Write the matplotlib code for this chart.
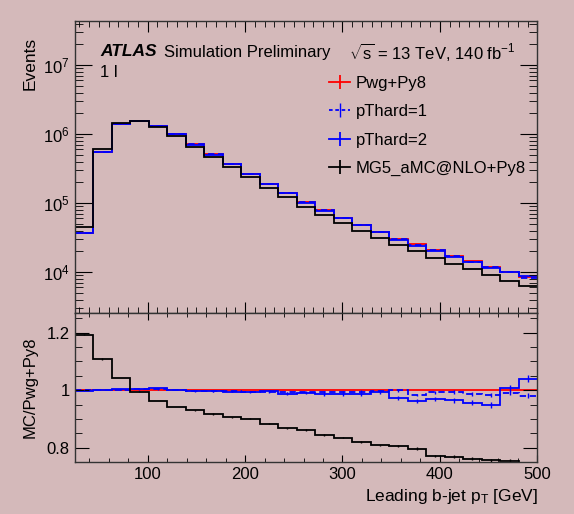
import numpy as np
import matplotlib
matplotlib.use("Agg")
import matplotlib.pyplot as plt
from matplotlib.lines import Line2D
from matplotlib.ticker import MultipleLocator, FixedLocator, LogLocator, NullFormatter

# binning: 25 bins of 19 GeV from 25 to 500
edges = np.arange(25, 501, 19)

# Pwg+Py8 (reference) events per bin
pwg = [37.2e3, 554e3, 1.396e6, 1.56e6, 1.306e6, 0.99e6, 709e3, 508e3, 367e3,
       263e3, 190e3, 140e3, 103e3, 79e3, 61e3, 48.5e3, 38e3, 30.4e3, 25.2e3,
       20.8e3, 17.1e3, 14.4e3, 11.9e3, 10.0e3, 8.5e3]

# ratios to Pwg+Py8
r_hard1 = [1.000, 1.000, 1.002, 1.004, 1.003, 1.001, 0.998, 0.997, 0.996,
           0.995, 0.994, 0.992, 0.994, 0.993, 0.993, 0.995, 0.996, 0.999,
           0.983, 0.993, 0.994, 0.987, 0.984, 0.991, 0.981]
r_hard2 = [0.998, 1.000, 1.003, 1.003, 1.006, 1.002, 0.997, 0.996, 0.995,
           0.992, 0.996, 0.988, 0.990, 0.986, 0.986, 0.985, 0.994, 0.972,
           0.963, 0.969, 0.965, 0.957, 0.949, 1.006, 1.040]
r_mg5 = [1.193, 1.108, 1.042, 0.995, 0.963, 0.941, 0.930, 0.917, 0.905,
         0.901, 0.884, 0.868, 0.862, 0.844, 0.835, 0.820, 0.808, 0.805,
         0.797, 0.771, 0.769, 0.762, 0.757, 0.754, 0.740]

# approximate statistical uncertainties on the ratios
e_hard1 = [0.001, 0.001, 0.001, 0.001, 0.001, 0.002, 0.002, 0.002, 0.002,
           0.002, 0.003, 0.003, 0.003, 0.003, 0.004, 0.004, 0.004, 0.005,
           0.005, 0.005, 0.006, 0.006, 0.007, 0.007, 0.008]
e_hard2 = [0.002, 0.001, 0.001, 0.001, 0.001, 0.002, 0.002, 0.002, 0.003,
           0.003, 0.003, 0.004, 0.004, 0.005, 0.005, 0.006, 0.006, 0.007,
           0.007, 0.008, 0.008, 0.009, 0.010, 0.011, 0.012]
e_mg5 = [0.002, 0.002, 0.001, 0.001, 0.001, 0.001, 0.002, 0.002, 0.002,
         0.002, 0.002, 0.002, 0.003, 0.003, 0.003, 0.003, 0.003, 0.004,
         0.004, 0.004, 0.004, 0.005, 0.005, 0.005, 0.005]

labels = ['Pwg+Py8', 'pThard=1', 'pThard=2', 'MG5_aMC@NLO+Py8']

bg = '#d4b9ba'
plt.rcParams['font.family'] = ['Liberation Sans', 'DejaVu Sans']
plt.rcParams['mathtext.fontset'] = 'custom'
plt.rcParams['mathtext.rm'] = 'Liberation Sans'
plt.rcParams['mathtext.it'] = 'Liberation Sans:italic'
plt.rcParams['font.size'] = 12

lw = 1.3
dash = (3.5, 2)

fig = plt.figure(figsize=(5.74, 5.14), dpi=100, facecolor=bg)
ax = fig.add_axes((0.130, 0.391, 0.806, 0.568), facecolor=bg)
rx = fig.add_axes((0.130, 0.101, 0.806, 0.290), facecolor=bg)

pwg = np.array(pwg)
centers = 0.5 * (edges[:-1] + edges[1:])

ax.stairs(pwg, edges, baseline=None, color='red', lw=lw)
ax.stairs(pwg * np.array(r_hard1), edges, baseline=None, color='blue', lw=lw, ls=(0, dash))
ax.stairs(pwg * np.array(r_hard2), edges, baseline=None, color='blue', lw=lw)
ax.stairs(pwg * np.array(r_mg5), edges, baseline=None, color='black', lw=lw)

rx.stairs(np.ones(len(pwg)), edges, baseline=None, color='red', lw=lw)
rx.stairs(r_hard1, edges, baseline=None, color='blue', lw=lw, ls=(0, dash))
rx.errorbar(centers, r_hard1, yerr=e_hard1, fmt='none', ecolor='blue', lw=1.0)
rx.stairs(r_hard2, edges, baseline=None, color='blue', lw=lw)
rx.errorbar(centers, r_hard2, yerr=e_hard2, fmt='none', ecolor='blue', lw=1.0)
rx.stairs(r_mg5, edges, baseline=None, color='black', lw=lw)
rx.errorbar(centers, r_mg5, yerr=e_mg5, fmt='none', ecolor='black', lw=1.0)

ax.set_yscale('log')
ax.set_xlim(25, 500)
ax.set_ylim(2.55e3, 4.35e7)
rx.set_xlim(25, 500)
rx.set_ylim(0.75, 1.268)

for a in (ax, rx):
    for s in a.spines.values():
        s.set_color('#333333')
        s.set_linewidth(1.0)

ax.xaxis.set_major_locator(MultipleLocator(100))
ax.xaxis.set_minor_locator(MultipleLocator(10))
ax.tick_params(axis='x', which='major', direction='in', length=8, top=True, labelbottom=False)
ax.tick_params(axis='x', which='minor', direction='in', length=4, top=True)
ax.yaxis.set_major_locator(LogLocator(base=10, numticks=10))
ax.yaxis.set_minor_locator(LogLocator(base=10, subs=np.arange(2, 10), numticks=20))
ax.yaxis.set_minor_formatter(NullFormatter())
ax.tick_params(axis='y', which='major', direction='in', length=12, right=True, labelsize=12)
ax.tick_params(axis='y', which='minor', direction='in', length=6, right=True)

rx.xaxis.set_major_locator(MultipleLocator(100))
rx.xaxis.set_minor_locator(MultipleLocator(20))
rx.tick_params(axis='x', which='major', direction='in', length=5, top=True, labelsize=12)
rx.tick_params(axis='x', which='minor', direction='in', length=3, top=True)
rx.yaxis.set_major_locator(FixedLocator([0.8, 1.0, 1.2]))
rx.set_yticklabels(['0.8', '1', '1.2'])
rx.yaxis.set_minor_locator(MultipleLocator(0.05))
rx.tick_params(axis='y', which='major', direction='in', length=10, right=True, labelsize=12)
rx.tick_params(axis='y', which='minor', direction='in', length=5, right=True)

handles = [
    Line2D([], [], color='red', lw=lw, marker='|', markersize=10, markeredgewidth=lw),
    Line2D([], [], color='blue', lw=lw, ls=(0, (2, 1.5)), marker='|', markersize=10,
           markeredgewidth=1.0),
    Line2D([], [], color='blue', lw=lw, marker='|', markersize=10, markeredgewidth=lw),
    Line2D([], [], color='black', lw=lw, marker='|', markersize=10, markeredgewidth=lw),
]
ax.legend(handles, labels, loc='upper left', bbox_to_anchor=(0.535, 0.835), frameon=False,
          fontsize=12, handlelength=1.3, handletextpad=0.3, labelspacing=0.8,
          borderaxespad=0)

fig.text(100 / 574, 1 - 52 / 514, 'ATLAS', fontsize=12.5, fontweight='bold', style='italic',
         va='center', ha='left')
fig.text(164 / 574, 1 - 52 / 514, 'Simulation Preliminary', fontsize=12, va='center', ha='left')
fig.text(349 / 574, 1 - 52 / 514, r'$\sqrt{\mathrm{s}}$ = 13 TeV, 140 fb$^{-1}$', fontsize=12,
         va='center', ha='left')
fig.text(100 / 574, 1 - 73 / 514, '1 l', fontsize=12, va='center', ha='left')

fig.text(30 / 574, 1 - 37 / 514, 'Events', rotation=90, fontsize=12.5, ha='center', va='top')
fig.text(30 / 574, 1 - 387 / 514, 'MC/Pwg+Py8', rotation=90, fontsize=12, ha='center', va='center')
fig.text(538 / 574, 1 - 496 / 514, r'Leading b-jet p$_{\mathrm{T}}$ [GeV]', fontsize=12.5,
         ha='right', va='center')

fig.savefig('out.png', dpi=100, facecolor=bg)
